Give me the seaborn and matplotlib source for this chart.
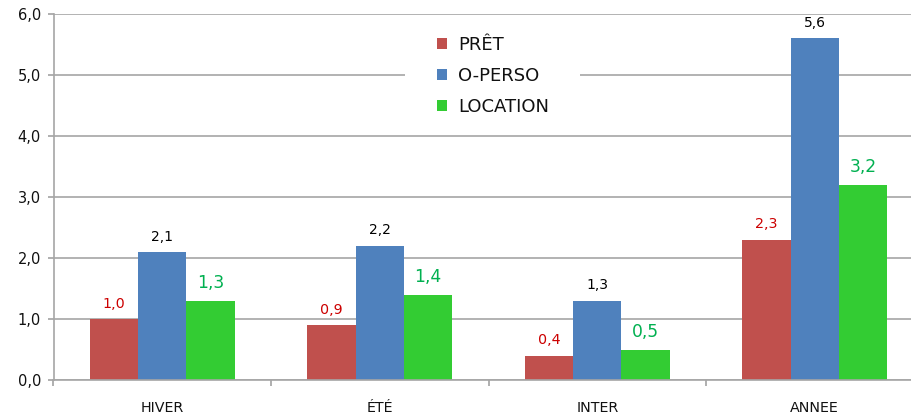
import matplotlib
matplotlib.use("Agg")
import matplotlib.pyplot as plt
from matplotlib.patches import Rectangle
import seaborn as sns
import pandas as pd

categories = ["HIVER", "ÉTÉ", "INTER", "ANNEE"]
series = ["PRÊT", "O-PERSO", "LOCATION"]
pret = [1.0, 0.9, 0.4, 2.3]
operso = [2.1, 2.2, 1.3, 5.6]
location = [1.3, 1.4, 0.5, 3.2]
yticks = [0, 1, 2, 3, 4, 5, 6]

bar_colors = ["#C0504D", "#4F81BD", "#33CC33"]
label_colors = ["#CC0000", "#000000", "#00B050"]
label_sizes = [10.3, 10, 12.3]

rows = []
for s, vals in zip(series, [pret, operso, location]):
    for c, v in zip(categories, vals):
        rows.append({"cat": c, "serie": s, "val": v})
df = pd.DataFrame(rows)

sns.set_theme(style="white")
plt.rcParams['font.family'] = ['DejaVu Sans']

fig = plt.figure(figsize=(9.11, 4.18), dpi=100)
W, H = 911, 418
x0, x1 = 53.5, 53.5 + 4 * 217.5
y0, y1 = 380, 14
ax = fig.add_axes([x0 / W, 1 - y0 / H, (x1 - x0) / W, (y0 - y1) / H])

sns.barplot(data=df, x="cat", y="val", hue="serie", palette=bar_colors,
            width=0.667, ax=ax, saturation=1, legend=True, linewidth=0)

ax.set_ylim(0, 6)
ax.set_xlim(-0.5, 3.5)
ax.set_yticks(yticks)
ax.set_yticklabels([f"{v:.1f}".replace(".", ",") for v in yticks], fontsize=10.5, color="#111111")
ax.yaxis.grid(True, color="#A6A6A6", linewidth=1.2)
ax.set_axisbelow(True)
ax.set_xlabel("")
ax.set_ylabel("")

ax.set_xticks([-0.5, 0.5, 1.5, 2.5, 3.5])
ax.set_xticklabels([])
ax.set_xticks([0, 1, 2, 3], minor=True)
ax.set_xticklabels(categories, minor=True, fontsize=10.3, color="#111111")
ax.tick_params(axis="x", which="major", length=4, color="#A6A6A6", direction="out", bottom=True)
ax.tick_params(axis="x", which="minor", length=0, pad=15)
ax.tick_params(axis="y", length=4, color="#A6A6A6", direction="out", left=True, pad=5)

for sp in ["top", "right"]:
    ax.spines[sp].set_visible(False)
for sp in ["left", "bottom"]:
    ax.spines[sp].set_color("#A6A6A6")
    ax.spines[sp].set_linewidth(1.2)

for cont, col, fs in zip(ax.containers, label_colors, label_sizes):
    ax.bar_label(cont, labels=[f"{b.get_height():.1f}".replace(".", ",") for b in cont],
                 color=col, fontsize=fs, padding=6)

def fx(px):
    return (px - x0) / (x1 - x0)

def fy(py):
    return (y0 - py) / (y0 - y1)

ax.add_patch(Rectangle((fx(405), fy(126)), fx(580) - fx(405), fy(24) - fy(126),
                       transform=ax.transAxes, facecolor="white", edgecolor="none", zorder=3))

leg = ax.legend(loc="center left", bbox_to_anchor=(fx(437), fy(76)), frameon=False,
                fontsize=13, handlelength=0.55, handleheight=0.55, handletextpad=0.6,
                labelspacing=0.72, borderpad=0, borderaxespad=0)
for t in leg.get_texts():
    t.set_color("#111111")
leg.set_zorder(5)

fig.savefig("out.png", dpi=100)
